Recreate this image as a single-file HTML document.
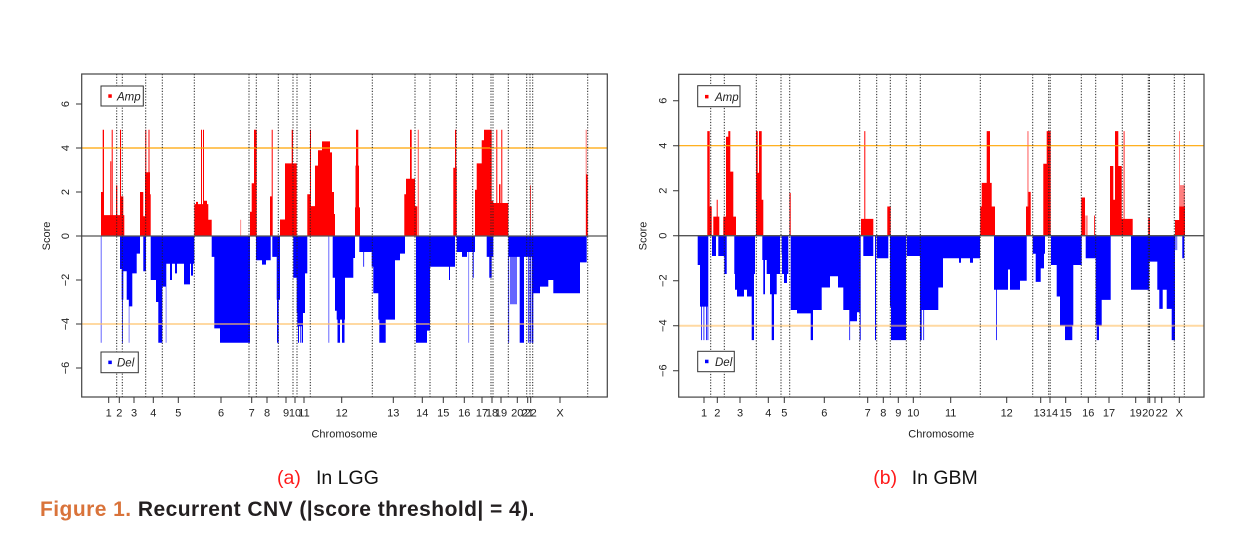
<!DOCTYPE html>
<html>
<head>
<meta charset="utf-8">
<style>
html,body{margin:0;padding:0;background:#fff;}
body{width:1240px;height:537px;overflow:hidden;}
svg{display:block;}
text{font-family:"Liberation Sans",Arial,sans-serif;}
</style>
</head>
<body>
<svg width="1240" height="537" viewBox="0 0 1240 537" xmlns="http://www.w3.org/2000/svg">
<rect width="1240" height="537" fill="#fff"/>

<!-- LGG bars -->
<g transform="matrix(1,0,0,-22,0,236)">
<path fill="#ff0000" d="M101,0h1.7v2h-1.7z M101,0h23.3v0.95h-23.3z M102.7,0h1.3v4.83h-1.3z M110.3,0h1v3.4h-1z M111.7,0h1v4.83h-1z M116,0h1.3v2.3h-1.3z M120,0h1v4.83h-1z M121,0h2.3v1.8h-2.3z M140,0h3.3v2h-3.3z M140,0h10.7v0.9h-10.7z M145,0h5v2.9h-5z M145.3,0h1v4.83h-1z M148.5,0h1v4.83h-1z M149.7,0h1v1.9h-1z M194.3,0h14v1.45h-14z M196,0h2v1.55h-2z M204,0h3v1.6h-3z M201,0h1v4.83h-1z M203,0h1v4.83h-1z M208.3,0h3.4v0.74h-3.4z M250,0h2.3v1.1h-2.3z M251.7,0h2.3v2.4h-2.3z M254,0h2.7v4.83h-2.7z M270,0h1.7v1.8h-1.7z M271.7,0h1v4.83h-1z M280,0h5v0.75h-5z M285,0h11.7v3.3h-11.7z M291.7,0h1.3v4.83h-1.3z M307.3,0h2.7v1.9h-2.7z M310,0h1v4.83h-1z M311,0h4v1.36h-4z M315,0h3v3.2h-3z M318,0h4v3.9h-4z M322,0h8v4.3h-8z M330,0h2v3.8h-2z M332,0h2v2h-2z M334,0h1v1h-1z M355,0h5v1.3h-5z M355.5,0h3.5v3.2h-3.5z M356,0h2.3v4.83h-2.3z M404.3,0h3v1.9h-3z M406,0h9v2.6h-9z M410,0h1.7v4.83h-1.7z M415,0h2.3v1.35h-2.3z M453.3,0h3.4v3.1h-3.4z M455,0h1.3v4.83h-1.3z M475,0h3.3v2.1h-3.3z M476.7,0h5v3.3h-5z M481.7,0h3.3v4.35h-3.3z M484,0h7.7v4.83h-7.7z M491.7,0h1.6v1.6h-1.6z M493.3,0h15v1.5h-15z M496.3,0h1v4.83h-1z M501.3,0h1v4.83h-1z M499,0h1.5v2.35h-1.5z M530,0h0.8v2.3h-0.8z M586,0h1.7v2.8h-1.7z"/>
<path fill="#ff0000" opacity="0.55" d="M240.3,0h0.8v0.74h-0.8z M417.7,0h1.3v4.83h-1.3z M585.7,0h1v4.83h-1z"/>
<path fill="#0000ff" d="M120,0h1.7v-1.5h-1.7z M121.7,0h1.6v-2.9h-1.6z M122,0h0.8v-4.85h-0.8z M123.3,0h3.4v-1.6h-3.4z M126.7,0h2.3v-2.9h-2.3z M129,0h3.3v-3.2h-3.3z M132.3,0h4.4v-1.7h-4.4z M136.7,0h3.3v-0.8h-3.3z M143.3,0h2.7v-1.6h-2.7z M150.7,0h5.3v-2h-5.3z M156,0h2.3v-3h-2.3z M158.3,0h4v-4.85h-4z M162.3,0h3.7v-2.3h-3.7z M166,0h28.3v-1.26h-28.3z M170,0h2v-2h-2z M175,0h2v-1.7h-2z M184,0h6v-2.2h-6z M191,0h2v-1.8h-2z M211.7,0h2.6v-0.95h-2.6z M214.3,0h5.7v-4.2h-5.7z M220,0h30v-4.85h-30z M256,0h14.7v-1.1h-14.7z M262,0h4v-1.3h-4z M272.3,0h4.4v-0.95h-4.4z M276.7,0h3.3v-2.9h-3.3z M277,0h1.7v-4.85h-1.7z M293.3,0h3.4v-1.9h-3.4z M296.7,0h8.3v-3.5h-8.3z M297.3,0h5.7v-4.1h-5.7z M298,0h1v-4.85h-1z M300.3,0h1v-4.85h-1z M302,0h1v-4.85h-1z M305,0h2.3v-1.7h-2.3z M332.7,0h4v-1.9h-4z M335,0h10v-3.4h-10z M336.7,0h8.3v-3.8h-8.3z M337.5,0h2.5v-4.85h-2.5z M342,0h2.5v-4.85h-2.5z M345,0h8.3v-1.9h-8.3z M353.3,0h1.7v-1h-1.7z M359.3,0h12.4v-0.73h-12.4z M363.3,0h0.8v-1.4h-0.8z M371.7,0h3.3v-1.4h-3.3z M373.3,0h6.7v-2.6h-6.7z M378.3,0h16.7v-3.8h-16.7z M379.3,0h6.4v-4.85h-6.4z M395,0h5v-1.1h-5z M400,0h5v-0.8h-5z M416,0h14v-4h-14z M416,0h11v-4.85h-11z M427,0h3v-4.3h-3z M430,0h25v-1.4h-25z M449,0h1v-2h-1z M456.7,0h18.3v-0.73h-18.3z M462,0h5v-0.95h-5z M472.7,0h1v-1.9h-1z M486.7,0h6.6v-0.95h-6.6z M489.3,0h2.4v-1.9h-2.4z M508.3,0h11.4v-0.95h-11.4z M508.3,0h0.8v-4.85h-0.8z M519.7,0h4.3v-4.85h-4.3z M524,0h9.3v-0.95h-9.3z M528.3,0h1v-4.85h-1z M530.3,0h1v-4.85h-1z M532,0h1.3v-4.85h-1.3z M533.3,0h6.7v-2.6h-6.7z M540,0h8.3v-2.3h-8.3z M548.3,0h5v-2h-5z M553.3,0h26.7v-2.6h-26.7z M580,0h6.7v-1.2h-6.7z"/>
<path fill="#0000ff" opacity="0.6" d="M100.7,0h1v-4.85h-1z M128.7,0h0.8v-4.85h-0.8z M165.7,0h0.8v-4.85h-0.8z M328.3,0h1v-4.85h-1z M468.3,0h0.8v-4.85h-0.8z M510,0h7v-3.1h-7z"/>
</g>

<line x1="81.7" y1="236" x2="607.3" y2="236" stroke="#555" stroke-width="1.3"/>
<line x1="81.7" y1="148" x2="607.3" y2="148" stroke="#ffa500" stroke-width="1.2"/>
<line x1="81.7" y1="324" x2="607.3" y2="324" stroke="#ffc066" stroke-width="2" opacity="0.6"/>

<path stroke="#222" stroke-width="1" stroke-dasharray="1.2,1.6" fill="none" d="M116.7,74V397 M122.3,74V397 M145.7,74V397 M162.3,74V397 M194.3,74V397 M249,74V397 M256.3,74V397 M278.3,74V397 M293,74V397 M297,74V397 M310.3,74V397 M372.3,74V397 M415,74V397 M430,74V397 M456.3,74V397 M472.7,74V397 M491,74V397 M493,74V397 M508.3,74V397 M526.7,74V397 M530,74V397 M532.7,74V397 M587.7,74V397"/>

<rect x="101" y="86" width="42.3" height="20" fill="#fff" stroke="#333" stroke-width="1"/>
<rect x="108.3" y="94.3" width="3.5" height="3.5" fill="#ff0000"/>
<text x="117" y="100.5" font-size="11.5" font-style="italic" fill="#222">Amp</text>
<rect x="101" y="352" width="37.3" height="20.7" fill="#fff" stroke="#333" stroke-width="1"/>
<rect x="108.3" y="360.6" width="3.5" height="3.5" fill="#0000ff"/>
<text x="117" y="366.6" font-size="11.5" font-style="italic" fill="#222">Del</text>

<rect x="81.7" y="74" width="525.6" height="323" fill="none" stroke="#444" stroke-width="1.2"/>

<path stroke="#333" stroke-width="1" fill="none" d="M76,104H81.7 M76,148H81.7 M76,192H81.7 M76,236H81.7 M76,280H81.7 M76,324H81.7 M76,368H81.7 M108.7,397V403 M119.3,397V403 M134,397V403 M153.3,397V403 M178.3,397V403 M221,397V403 M251.7,397V403 M267,397V403 M286,397V403 M295,397V403 M304,397V403 M341.7,397V403 M393.3,397V403 M422.3,397V403 M443.3,397V403 M464.3,397V403 M482,397V403 M492,397V403 M501,397V403 M517.3,397V403 M527.7,397V403 M530.7,397V403 M560,397V403"/>

<g font-size="11" fill="#222" text-anchor="middle">
<text transform="translate(69,104) rotate(-90)">6</text>
<text transform="translate(69,148) rotate(-90)">4</text>
<text transform="translate(69,192) rotate(-90)">2</text>
<text transform="translate(69,236) rotate(-90)">0</text>
<text transform="translate(69,280) rotate(-90)">−2</text>
<text transform="translate(69,324) rotate(-90)">−4</text>
<text transform="translate(69,368) rotate(-90)">−6</text>
<text transform="translate(50,236) rotate(-90)">Score</text>
<text x="108.7" y="416.5">1</text>
<text x="119.3" y="416.5">2</text>
<text x="134" y="416.5">3</text>
<text x="153.3" y="416.5">4</text>
<text x="178.3" y="416.5">5</text>
<text x="221" y="416.5">6</text>
<text x="251.7" y="416.5">7</text>
<text x="267" y="416.5">8</text>
<text x="286" y="416.5">9</text>
<text x="295" y="416.5">10</text>
<text x="304" y="416.5">11</text>
<text x="341.7" y="416.5">12</text>
<text x="393.3" y="416.5">13</text>
<text x="422.3" y="416.5">14</text>
<text x="443.3" y="416.5">15</text>
<text x="464.3" y="416.5">16</text>
<text x="482" y="416.5">17</text>
<text x="492" y="416.5">18</text>
<text x="501" y="416.5">19</text>
<text x="517.3" y="416.5">20</text>
<text x="527.7" y="416.5">21</text>
<text x="530.7" y="416.5">22</text>
<text x="560" y="416.5">X</text>
<text x="344.5" y="437.5">Chromosome</text>
</g>

<!-- GBM bars -->
<g transform="matrix(1,0,0,-22.5,0,235.7)">
<path fill="#ff0000" d="M707.3,0h2.4v4.65h-2.4z M709.7,0h2v1.3h-2z M713.3,0h6v0.85h-6z M716.7,0h1v1.6h-1z M723.3,0h12.7v0.85h-12.7z M726,0h4v4.4h-4z M728.3,0h2v4.65h-2z M730,0h3.3v2.85h-3.3z M756,0h1.7v4.65h-1.7z M757.7,0h1.3v2.8h-1.3z M759,0h2.7v4.65h-2.7z M761.7,0h1.6v1.6h-1.6z M789.5,0h1.2v1.9h-1.2z M861,0h12.3v0.75h-12.3z M864.3,0h1v4.65h-1z M887.3,0h3.4v1.3h-3.4z M980.3,0h14.7v1.3h-14.7z M981.7,0h3.3v2.35h-3.3z M985,0h6.7v2.35h-6.7z M986.7,0h3.3v4.65h-3.3z M1026,0h4v1.3h-4z M1028.3,0h2.4v1.95h-2.4z M1043.3,0h3.4v3.2h-3.4z M1046.7,0h4v4.65h-4z M1081.3,0h3.7v1.7h-3.7z M1094,0h0.8v0.9h-0.8z M1110,0h3.3v3.1h-3.3z M1110,0h22.7v0.75h-22.7z M1113.3,0h1.7v1.6h-1.7z M1115,0h3.3v4.65h-3.3z M1118.3,0h3.4v3.1h-3.4z M1148.3,0h1.7v0.8h-1.7z M1175,0h10v0.7h-10z M1179.3,0h5.7v1.3h-5.7z"/>
<path fill="#ff0000" opacity="0.5" d="M1027.3,0h1.3v4.65h-1.3z M1085.3,0h2.4v0.9h-2.4z M1123.3,0h1.7v4.65h-1.7z M1179,0h1v4.65h-1z M1179.3,0h5.7v2.25h-5.7z"/>
<path fill="#0000ff" d="M697.7,0h2.3v-1.3h-2.3z M700,0h8.3v-3.15h-8.3z M701,0h0.8v-4.64h-0.8z M703.5,0h0.8v-4.64h-0.8z M706,0h0.8v-4.64h-0.8z M707.5,0h0.8v-4.64h-0.8z M712,0h4v-0.9h-4z M718.3,0h6v-0.9h-6z M724.3,0h2.4v-1.7h-2.4z M734.3,0h20.7v-1.7h-20.7z M735,0h15v-2.4h-15z M737,0h7v-2.7h-7z M747,0h5v-2.7h-5z M751.7,0h2.3v-4.64h-2.3z M762.3,0h17.7v-1.08h-17.7z M763.3,0h1.7v-2.6h-1.7z M766.7,0h5v-1.7h-5z M770,0h6.7v-2.6h-6.7z M771.7,0h2.3v-4.64h-2.3z M776.7,0h3.3v-1.7h-3.3z M781.7,0h6.6v-0.8h-6.6z M782,0h6.3v-1.7h-6.3z M784,0h3v-2.1h-3z M790.7,0h6.3v-3.3h-6.3z M797,0h14v-3.45h-14z M810.7,0h2.3v-4.64h-2.3z M813,0h8.7v-3.3h-8.7z M821.7,0h8.3v-2.3h-8.3z M830,0h8v-1.8h-8z M838,0h5.3v-2.3h-5.3z M843.3,0h6.7v-3.3h-6.7z M850,0h7v-3.8h-7z M857,0h2.7v-3.4h-2.7z M849.3,0h0.8v-4.64h-0.8z M859.7,0h1v-4.64h-1z M863.3,0h10v-0.9h-10z M875,0h1v-4.64h-1z M876.7,0h11.6v-1h-11.6z M890,0h1v-3.15h-1z M891,0h15v-4.64h-15z M906.7,0h13.3v-0.9h-13.3z M920,0h18.3v-3.3h-18.3z M920,0h1.7v-4.64h-1.7z M923.3,0h0.8v-4.64h-0.8z M938.3,0h4.7v-2.3h-4.7z M942.7,0h37.3v-1h-37.3z M959,0h2v-1.2h-2z M970,0h3v-1.2h-3z M994,0h32.7v-1.5h-32.7z M994,0h14v-2.4h-14z M1010,0h10v-2.4h-10z M1020,0h6.7v-2h-6.7z M996,0h0.8v-4.64h-0.8z M1032.7,0h3v-0.8h-3z M1035.7,0h5v-2.05h-5z M1040.7,0h3.3v-1.45h-3.3z M1044,0h1v-0.8h-1z M1051,0h5.7v-1.3h-5.7z M1056.7,0h6.6v-2.7h-6.6z M1060,0h13.3v-4h-13.3z M1065,0h7.3v-4.64h-7.3z M1073.3,0h8.4v-1.3h-8.4z M1085.7,0h10v-1h-10z M1095.7,0h6v-4h-6z M1096.7,0h2.3v-4.64h-2.3z M1101.7,0h9v-2.85h-9z M1131,0h18.3v-2.4h-18.3z M1149.3,0h8v-1.15h-8z M1157.3,0h9.4v-2.4h-9.4z M1159.3,0h3.4v-3.25h-3.4z M1166.7,0h6.6v-3.25h-6.6z M1171.7,0h3.3v-4.64h-3.3z M1182.3,0h2v-1h-2z"/>
<path fill="#0000ff" opacity="0.5" d="M1175,0h2.3v-0.64h-2.3z"/>
</g>

<line x1="678.7" y1="235.7" x2="1204" y2="235.7" stroke="#555" stroke-width="1.3"/>
<line x1="678.7" y1="145.7" x2="1204" y2="145.7" stroke="#ffa500" stroke-width="1.2"/>
<line x1="678.7" y1="325.7" x2="1204" y2="325.7" stroke="#ffc066" stroke-width="2" opacity="0.6"/>

<path stroke="#222" stroke-width="1" stroke-dasharray="1.2,1.6" fill="none" d="M710.7,74.3V397 M724.3,74.3V397 M756.3,74.3V397 M781,74.3V397 M789.7,74.3V397 M859.7,74.3V397 M876.7,74.3V397 M890.3,74.3V397 M906.3,74.3V397 M920.3,74.3V397 M980.3,74.3V397 M1032.7,74.3V397 M1048.7,74.3V397 M1050.2,74.3V397 M1081.3,74.3V397 M1095.7,74.3V397 M1122.3,74.3V397 M1148.3,74.3V397 M1149.5,74.3V397 M1174.3,74.3V397 M1184.3,74.3V397"/>

<rect x="697.7" y="85.7" width="42.3" height="21" fill="#fff" stroke="#333" stroke-width="1"/>
<rect x="705" y="94.9" width="3.5" height="3.5" fill="#ff0000"/>
<text x="715" y="100.8" font-size="11.5" font-style="italic" fill="#222">Amp</text>
<rect x="697.7" y="351.3" width="36.6" height="20.4" fill="#fff" stroke="#333" stroke-width="1"/>
<rect x="705" y="359.7" width="3.5" height="3.5" fill="#0000ff"/>
<text x="715" y="365.8" font-size="11.5" font-style="italic" fill="#222">Del</text>

<rect x="678.7" y="74.3" width="525.3" height="322.8" fill="none" stroke="#444" stroke-width="1.2"/>

<path stroke="#333" stroke-width="1" fill="none" d="M673,100.7H678.7 M673,145.7H678.7 M673,190.7H678.7 M673,235.7H678.7 M673,280.7H678.7 M673,325.7H678.7 M673,370.7H678.7 M704,397V403 M717.3,397V403 M740,397V403 M768.3,397V403 M784.3,397V403 M824.3,397V403 M867.7,397V403 M883.3,397V403 M898.3,397V403 M913.3,397V403 M950.7,397V403 M1006.7,397V403 M1040.7,397V403 M1050,397V403 M1065.7,397V403 M1088.3,397V403 M1109,397V403 M1135.7,397V403 M1148,397V403 M1149.7,397V403 M1155,397V403 M1161.7,397V403 M1179.3,397V403"/>

<g font-size="11" fill="#222" text-anchor="middle">
<text transform="translate(666.3,100.7) rotate(-90)">6</text>
<text transform="translate(666.3,145.7) rotate(-90)">4</text>
<text transform="translate(666.3,190.7) rotate(-90)">2</text>
<text transform="translate(666.3,235.7) rotate(-90)">0</text>
<text transform="translate(666.3,280.7) rotate(-90)">−2</text>
<text transform="translate(666.3,325.7) rotate(-90)">−4</text>
<text transform="translate(666.3,370.7) rotate(-90)">−6</text>
<text transform="translate(646.5,236) rotate(-90)">Score</text>
<text x="704" y="416.5">1</text>
<text x="717.3" y="416.5">2</text>
<text x="740" y="416.5">3</text>
<text x="768.3" y="416.5">4</text>
<text x="784.3" y="416.5">5</text>
<text x="824.3" y="416.5">6</text>
<text x="867.7" y="416.5">7</text>
<text x="883.3" y="416.5">8</text>
<text x="898.3" y="416.5">9</text>
<text x="913.3" y="416.5">10</text>
<text x="950.7" y="416.5">11</text>
<text x="1006.7" y="416.5">12</text>
<text x="1039.7" y="416.5">13</text>
<text x="1052" y="416.5">14</text>
<text x="1065.7" y="416.5">15</text>
<text x="1088.3" y="416.5">16</text>
<text x="1109" y="416.5">17</text>
<text x="1135.7" y="416.5">19</text>
<text x="1148.3" y="416.5">20</text>
<text x="1161.7" y="416.5">22</text>
<text x="1179.3" y="416.5">X</text>
<text x="941.3" y="437.5">Chromosome</text>
</g>

<text x="277" y="484" font-size="19.5" fill="#ff1a1a">(a)</text>
<text x="316" y="484" font-size="19.5" fill="#111">In LGG</text>
<text x="873.3" y="484" font-size="19.5" fill="#ff1a1a">(b)</text>
<text x="911.7" y="484" font-size="19.5" fill="#111">In GBM</text>

<text x="40" y="516" font-size="21" font-weight="bold" letter-spacing="0.45"><tspan fill="#d9733a">Figure 1.</tspan><tspan fill="#231f20"> Recurrent CNV (|score threshold| = 4).</tspan></text>
</svg>
</body>
</html>
